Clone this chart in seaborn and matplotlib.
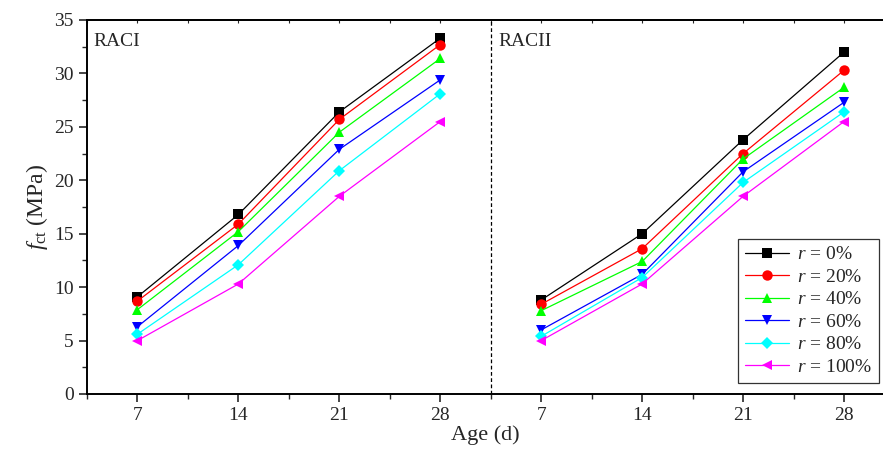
import numpy as np
import pandas as pd
import seaborn as sns
import matplotlib.pyplot as plt
from matplotlib.lines import Line2D
from matplotlib.ticker import MultipleLocator

# ---- data ----
ages = [7, 14, 21, 28]
ratios = ['0%', '20%', '40%', '60%', '80%', '100%']

raci = {
    '0%':   [9.1, 16.8, 26.4, 33.3],
    '20%':  [8.7, 15.9, 25.7, 32.7],
    '40%':  [7.9, 15.2, 24.5, 31.4],
    '60%':  [6.3, 13.9, 22.9, 29.4],
    '80%':  [5.6, 12.1, 20.9, 28.1],
    '100%': [5.0, 10.3, 18.5, 25.5],
}
racii = {
    '0%':   [8.8, 15.0, 23.8, 32.0],
    '20%':  [8.4, 13.6, 22.5, 30.3],
    '40%':  [7.8, 12.4, 22.0, 28.7],
    '60%':  [6.0, 11.2, 20.8, 27.3],
    '80%':  [5.4, 10.9, 19.8, 26.4],
    '100%': [5.0, 10.3, 18.5, 25.5],
}
panels = ['RACI', 'RACII']
x_tick_labels = ['7', '14', '21', '28']

colors = ['black', 'red', '#00ff00', 'blue', 'cyan', 'magenta']
markers = ['s', 'o', '^', 'v', 'D', '<']
msizes = [6.5, 7.5, 7.5, 7.5, 6, 7.5]

# ---- long table ----
rows = []
for p, (name, d) in enumerate(zip(panels, [raci, racii])):
    for r in ratios:
        for a, v in zip(ages, d[r]):
            rows.append({'panel': name, 'r': r, 'pos': a + 28 * p, 'fct': v})
df = pd.DataFrame(rows)

sns.set_style('ticks')
plt.rcParams['font.family'] = ['Liberation Serif', 'DejaVu Serif']
plt.rcParams['mathtext.fontset'] = 'custom'
plt.rcParams['mathtext.rm'] = 'Liberation Serif'
plt.rcParams['mathtext.it'] = 'Liberation Serif:italic'

fig = plt.figure(figsize=(8.83, 4.53), dpi=100)
ax = fig.add_axes([87 / 883, 59 / 453, 1 - 87 / 883, 374 / 453])

for i, r in enumerate(ratios):
    for name in panels:
        sub = df[(df['r'] == r) & (df['panel'] == name)]
        sns.lineplot(data=sub, x='pos', y='fct', ax=ax, color=colors[i],
                     marker=markers[i], markersize=msizes[i],
                     markeredgewidth=0, linewidth=0.9, legend=False)

ax.axvline(31.5, color='black', linestyle=(0, (3, 2)), linewidth=0.9)

ax.set_xlim(3.5, 58.7)
ax.set_ylim(0, 35)
xt = [a + 28 * p for p in range(2) for a in ages]
ax.set_xticks(xt)
ax.set_xticklabels(x_tick_labels * 2)
ax.xaxis.set_minor_locator(MultipleLocator(7, offset=3.5))
ax.yaxis.set_major_locator(MultipleLocator(5))
ax.yaxis.set_minor_locator(MultipleLocator(2.5))

ax.tick_params(axis='both', which='major', labelsize=14, length=6, width=1.2,
               direction='out')
ax.tick_params(axis='both', which='minor', length=3.5, width=1.0,
               direction='out')

# small inward ticks along the top edge
top = ax.secondary_xaxis('top')
top.set_xticks(xt)
top.xaxis.set_minor_locator(MultipleLocator(7, offset=3.5))
top.tick_params(which='both', direction='in', length=2.5, width=0.8,
                labeltop=False)
top.spines['top'].set_linewidth(1.4)

for s in ['left', 'bottom', 'top']:
    ax.spines[s].set_linewidth(1.4)
    ax.spines[s].set_color('black')
ax.spines['right'].set_visible(False)

ax.set_xlabel('Age (d)', fontsize=16, labelpad=1)
ax.set_ylabel(r'$f_{\mathrm{ct}}$ (MPa)', fontsize=17, labelpad=3)

ax.text(0.008, 0.965, 'RACI', transform=ax.transAxes, fontsize=14,
        ha='left', va='top')
ax.text(0.517, 0.965, 'RACII', transform=ax.transAxes, fontsize=14,
        ha='left', va='top')

handles = [Line2D([0], [0], color=colors[i], marker=markers[i],
                  markersize=msizes[i], markeredgewidth=0,
                  linewidth=0.9) for i in range(len(ratios))]
labels = ['$r$ = ' + r for r in ratios]
leg = ax.legend(handles, labels, loc='lower right', bbox_to_anchor=(1.0, 0.02),
                fontsize=14, frameon=True, fancybox=False, edgecolor='black',
                handlelength=2.3, handletextpad=0.4, labelspacing=0.25,
                borderpad=0.35, borderaxespad=0.2)
leg.get_frame().set_linewidth(0.9)

fig.savefig('out.png', dpi=100)
